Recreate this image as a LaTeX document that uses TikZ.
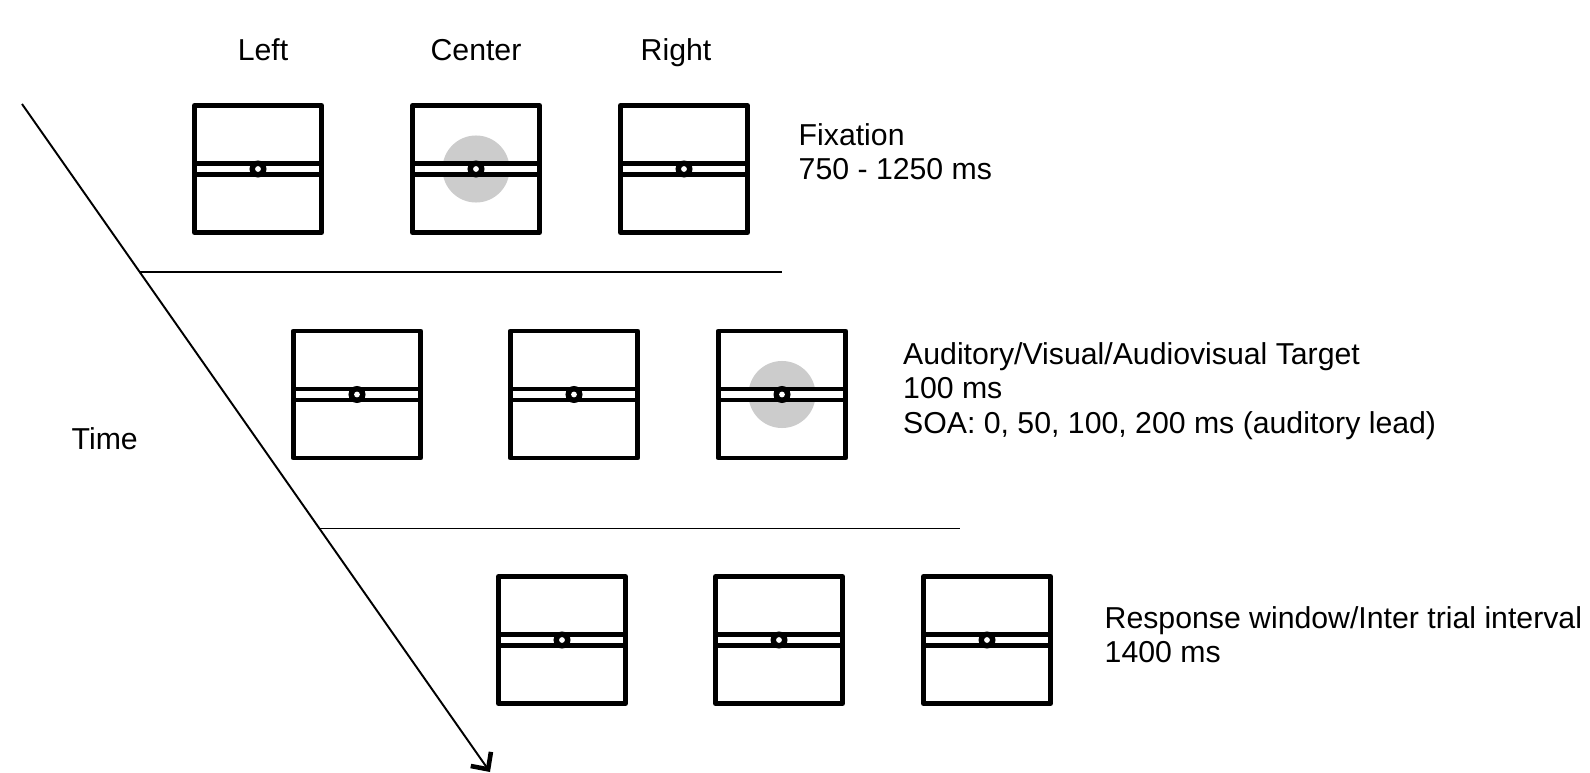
\documentclass[tikz,border=0pt]{standalone}
\usepackage{fontspec}
\setmainfont{Liberation Sans}
\usepackage{tikz}
\usetikzlibrary{arrows.meta}

\begin{document}
\begin{tikzpicture}[x=0.01cm, y=-0.01cm, every node/.style={inner sep=0, font=\fontsize{8.6}{9.8}\selectfont}]
	\useasboundingbox (0,0) rectangle (1590,773);

	%variables
	\def\s{63.5};
	\def\b{5.5};

	%time axis
	\coordinate (tstart) at (22,104);
	\coordinate (tend) at (490,772);
	\draw [-{Straight Barb[length=3.6pt, width=7pt, line width=1.3pt]}, line width=0.55pt] (tstart) -- (tend);

	%separators
	\draw [line width=0.45pt] (139.8,272) -- (782,272);
	\draw [line width=0.45pt] (319.7,528.3) -- (960,528.3);

	%screens
	\foreach \cx/\cy/\d in {258/169/0, 476/169/1, 684/169/0, 357/394.5/0, 574/394.5/0, 782/394.5/1, 562/640/0, 779/640/0, 987/640/0}{
		\ifnum\d=1
			\fill [black!20] (\cx,\cy) circle [radius = 0.335cm];
		\fi
		\draw [line width = 1.4pt, line join = round] (\cx-\s,\cy-\s) rectangle (\cx+\s,\cy+\s);
		\draw [line width = 1.2pt, fill = white] (\cx-\s,\cy-\b) rectangle (\cx+\s,\cy+\b);
		\fill (\cx,\cy) circle [radius = 0.085cm];
		\fill [white] (\cx,\cy) circle [radius = 0.029cm];
	}

	%column labels
	\node [anchor = base] (left) at (263,61) {Left};
	\node [anchor = base] (center) at (476,61) {Center};
	\node [anchor = base] (right) at (676,61) {Right};

	%phase labels
	\node [anchor = base west] (fix1) at (798,146) {Fixation};
	\node [anchor = base west] (fix2) at (798,179.5) {750 - 1250 ms};
	\node [anchor = base west] (tgt1) at (902.5,364) {Auditory/Visual/Audiovisual Target};
	\node [anchor = base west] (tgt2) at (902.5,398.5) {100 ms};
	\node [anchor = base west] (tgt3) at (902.5,434) {SOA: 0, 50, 100, 200 ms (auditory lead)};
	\node [anchor = base west] (resp1) at (1104,628) {Response window/Inter trial interval};
	\node [anchor = base west] (resp2) at (1104,662) {1400 ms};
	\node [anchor = base west] (time) at (71,449) {Time};
\end{tikzpicture}
\end{document}
